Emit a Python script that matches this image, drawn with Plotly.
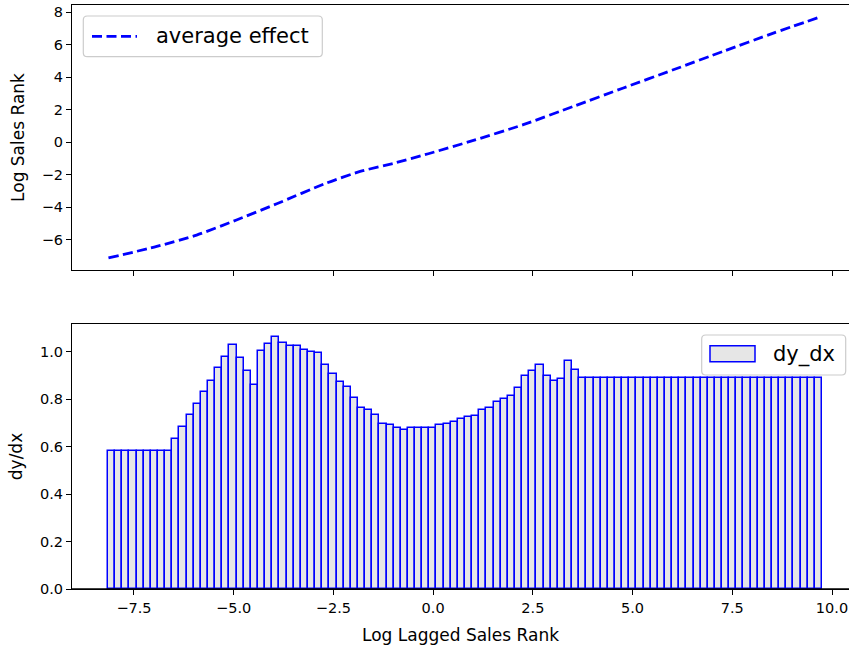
import numpy as np
import plotly.graph_objects as go
from plotly.subplots import make_subplots

# Average effect curve (top panel)
effect_x = [-8.14, -6.93, -5.93, -4.93, -3.92, -2.67, -1.83, -0.96, -0.12,
            1.01, 2.26, 3.51, 4.77, 6.02, 7.27, 8.53, 9.70]
effect_y = [-7.14, -6.43, -5.73, -4.80, -3.80, -2.52, -1.81, -1.29, -0.72,
            0.10, 1.07, 2.19, 3.33, 4.45, 5.58, 6.71, 7.70]

# Local slope dy/dx per bin (bottom panel), 100 bins
dy_dx = (
    [0.583] * 9
    + [0.633, 0.682, 0.731, 0.780, 0.829, 0.878, 0.929, 0.978, 1.027, 0.972,
       0.916, 0.860, 1.003, 1.031, 1.063, 1.037, 1.025, 1.024, 1.006, 0.997,
       0.995, 0.944, 0.905, 0.871]
    + [0.850]
    + [0.805, 0.763, 0.752, 0.731, 0.696, 0.690, 0.679, 0.671, 0.678, 0.678,
       0.679, 0.679, 0.690, 0.696, 0.705, 0.716, 0.723, 0.727, 0.752, 0.763,
       0.789, 0.801, 0.812, 0.847, 0.895, 0.920, 0.945, 0.895, 0.874, 0.885,
       0.961, 0.924]
    + [0.889] * 34
)

top_yticks = [-6, -4, -2, 0, 2, 4, 6, 8]
bottom_yticks = [0.0, 0.2, 0.4, 0.6, 0.8, 1.0]
x_ticks = [-7.5, -5.0, -2.5, 0.0, 2.5, 5.0, 7.5, 10.0]

# bin grid for the slope bars
bin_left = -8.15
bin_w = 0.179
bin_centers = bin_left + (np.arange(len(dy_dx)) + 0.5) * bin_w

FONT = "DejaVu Sans"
BLUE = "#0000ff"
W, H = 849, 649
ml, mr, mt, mb = 72, 0, 5, 60
plot_w = W - ml - mr
plot_h = H - mt - mb
top_dom = [(589 - 270) / plot_h, 1.0]
bot_dom = [0.0, (589 - 324) / plot_h]


def px(x):
    return (x - ml) / plot_w


def py(y):
    return (H - mb - y) / plot_h


fig = make_subplots(rows=2, cols=1, shared_xaxes=False)

fig.add_trace(
    go.Scatter(
        x=effect_x, y=effect_y, mode="lines", name="average effect",
        line=dict(color=BLUE, width=2.8, dash="10px,4.5px", shape="spline", smoothing=0.6),
        showlegend=False,
    ),
    row=1, col=1,
)

fig.add_trace(
    go.Bar(
        x=bin_centers, y=dy_dx, width=bin_w, name="dy_dx",
        marker=dict(color="#e6e6e6", line=dict(color=BLUE, width=1.5)),
        showlegend=False,
    ),
    row=2, col=1,
)

xr = [-7.5 - (134 - 72) / 39.89, 10.0 + (849 - 832) / 39.89]

axis_common = dict(
    showline=True, linecolor="black", linewidth=1.2,
    ticks="outside", ticklen=5, tickwidth=1.1, tickcolor="black",
    showgrid=False, zeroline=False, layer="above traces",
    tickfont=dict(family=FONT, size=14.5, color="black"),
)
title_font = dict(family=FONT, size=17, color="black")

fig.update_xaxes(
    **axis_common, range=xr, tickvals=x_ticks, showticklabels=False,
    mirror=True, row=1, col=1,
)
fig.update_xaxes(
    **axis_common, range=xr, tickvals=x_ticks, tickformat=".1f", mirror=True,
    title=dict(text="Log Lagged Sales Rank", font=title_font, standoff=14),
    row=2, col=1,
)
fig.update_yaxes(
    **axis_common, range=[-7.88, 8.44], tickvals=top_yticks,
    title=dict(text="Log Sales Rank", font=title_font, standoff=12),
    row=1, col=1,
)
fig.update_yaxes(
    **axis_common, range=[0, 1.116], tickvals=bottom_yticks, tickformat=".1f",
    title=dict(text="dy/dx", font=title_font, standoff=12),
    row=2, col=1,
)


def rounded_box(x0, y0, x1, y1, r=4):
    # rounded rectangle path in paper units from pixel corners
    rx, ry = r / plot_w, r / plot_h
    X0, X1 = px(x0), px(x1)
    Y0, Y1 = py(y0), py(y1)  # Y0 is the top
    return (
        f"M{X0 + rx},{Y0} L{X1 - rx},{Y0} Q{X1},{Y0} {X1},{Y0 - ry} "
        f"L{X1},{Y1 + ry} Q{X1},{Y1} {X1 - rx},{Y1} "
        f"L{X0 + rx},{Y1} Q{X0},{Y1} {X0},{Y1 + ry} "
        f"L{X0},{Y0 - ry} Q{X0},{Y0} {X0 + rx},{Y0} Z"
    )


shapes = [
    # bottom spine of the lower panel drawn over the bar outlines
    dict(type="line", xref="x2 domain", yref="y2", x0=0, x1=1, y0=0, y1=0,
         line=dict(color="black", width=1.6), layer="above"),
    # legend frame: average effect
    dict(type="path", xref="paper", yref="paper", path=rounded_box(83.3, 16, 322.3, 56.7),
         line=dict(color="#cccccc", width=1.2), fillcolor="rgba(255,255,255,0.8)"),
    dict(type="line", xref="paper", yref="paper", x0=px(92), x1=px(137), y0=py(36.3), y1=py(36.3),
         line=dict(color=BLUE, width=2.8, dash="10px,4.5px")),
    # legend frame: dy_dx
    dict(type="path", xref="paper", yref="paper", path=rounded_box(701.7, 335, 845.7, 375),
         line=dict(color="#cccccc", width=1.2), fillcolor="rgba(255,255,255,0.8)"),
    dict(type="rect", xref="paper", yref="paper", x0=px(710), x1=px(755), y0=py(361.7), y1=py(345.7),
         line=dict(color=BLUE, width=1.5), fillcolor="#e6e6e6"),
]

annotations = [
    dict(text="average effect", xref="paper", yref="paper", x=px(154), y=py(36.3),
         xanchor="left", yanchor="middle", showarrow=False,
         font=dict(family=FONT, size=21, color="black")),
    dict(text="dy_dx", xref="paper", yref="paper", x=px(771), y=py(354.5),
         xanchor="left", yanchor="middle", showarrow=False,
         font=dict(family=FONT, size=21, color="black")),
]

fig.update_layout(
    width=W, height=H,
    margin=dict(l=ml, r=mr, t=mt, b=mb),
    paper_bgcolor="white", plot_bgcolor="white",
    font=dict(family=FONT, color="black"),
    bargap=0,
    showlegend=False,
    xaxis=dict(domain=[0, 1]),
    xaxis2=dict(domain=[0, 1]),
    yaxis=dict(domain=top_dom),
    yaxis2=dict(domain=bot_dom),
    shapes=shapes,
    annotations=annotations,
)

fig.write_html("out.html")
